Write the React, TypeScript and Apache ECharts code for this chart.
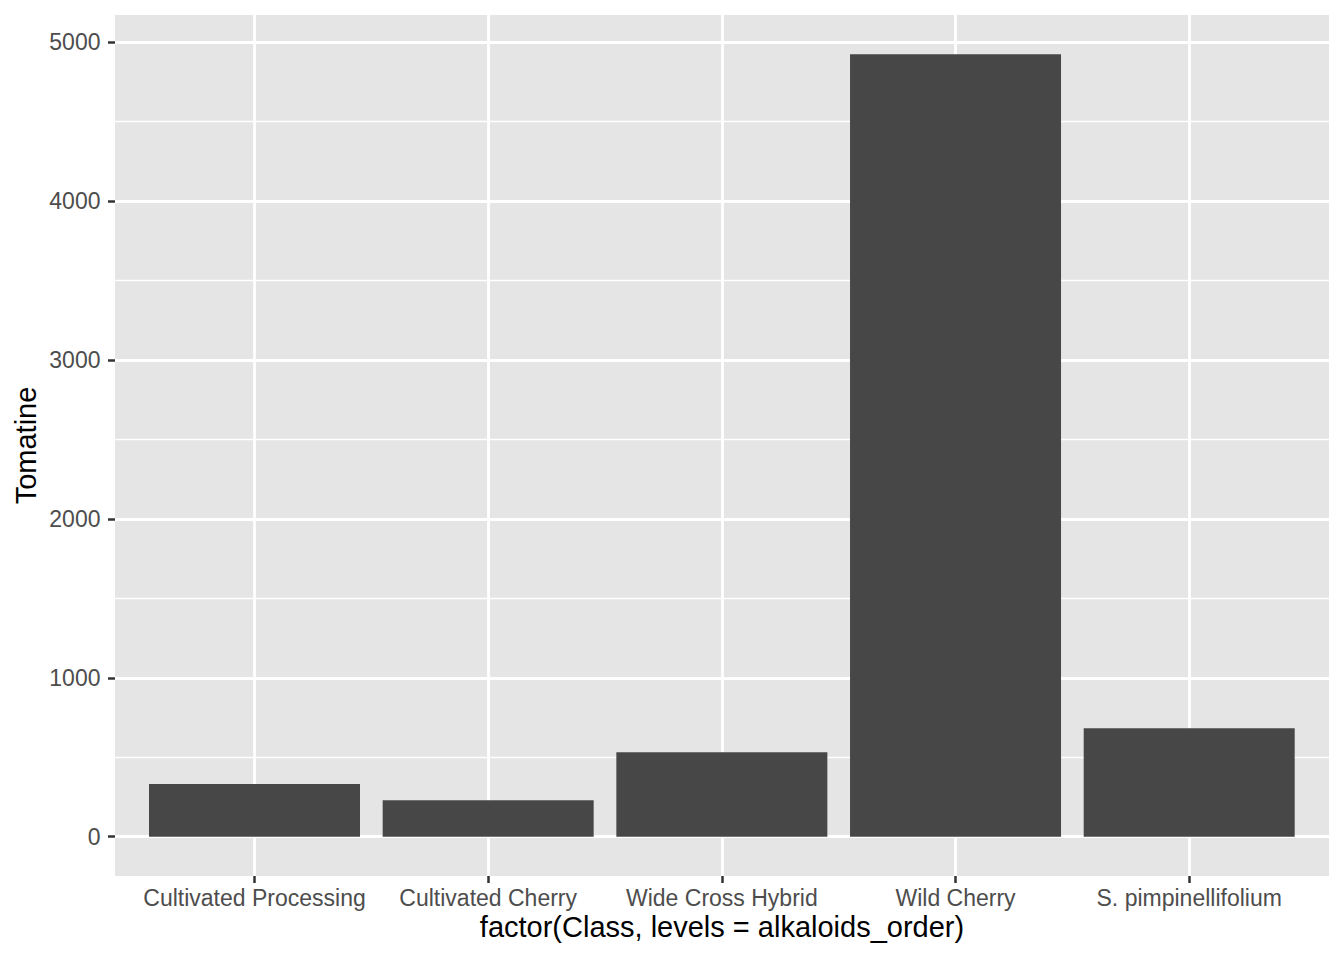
import React, { useEffect, useRef } from "react";
import * as echarts from "echarts";

const categories = [
  "Cultivated Processing",
  "Cultivated Cherry",
  "Wide Cross Hybrid",
  "Wild Cherry",
  "S. pimpinellifolium",
];
const tomatine = [332, 231, 533, 4926, 684];
const yTicks = [0, 1000, 2000, 3000, 4000, 5000];

const yMin = -246.3;
const yMax = 5172.3;

export default function App() {
  const ref = useRef<HTMLDivElement>(null);
  useEffect(() => {
    if (!ref.current) return;
    const chart = echarts.init(ref.current, null, { renderer: "svg" });
    const font = "'Liberation Sans', Arial, Helvetica, sans-serif";
    const panel = { left: 115, top: 15, width: 1214, height: 861 };
    const option: any = {
      animation: false,
      backgroundColor: "#FFFFFF",
      grid: [
        {
          left: panel.left,
          top: panel.top,
          width: panel.width,
          height: panel.height,
          show: true,
          backgroundColor: "#E5E5E5",
          borderWidth: 0,
        },
        {
          left: panel.left,
          top: 42.3,
          width: panel.width,
          height: 794.4,
          show: false,
        },
        {
          left: 254.5,
          top: panel.top,
          width: 934.7,
          height: panel.height,
          show: false,
        },
      ],
      xAxis: [
        { type: "value", gridIndex: 0, min: 0, max: 1, show: false },
        { type: "value", gridIndex: 1, min: 0, max: 1, show: false },
        {
          type: "category",
          gridIndex: 2,
          position: "bottom",
          data: categories,
          boundaryGap: false,
          axisLine: { show: false, onZero: false },
          axisTick: {
            show: true,
            length: 7,
            inside: false,
            lineStyle: { color: "#333333", width: 2.5 },
          },
          splitLine: { show: true, lineStyle: { color: "#FFFFFF", width: 2.8 } },
          axisLabel: {
            show: true,
            interval: 0,
            margin: 10,
            color: "#4D4D4D",
            fontSize: 23,
            fontFamily: font,
          },
        },
      ],
      yAxis: [
        { type: "value", gridIndex: 0, min: yMin, max: yMax, show: false },
        {
          type: "value",
          gridIndex: 1,
          min: yTicks[0],
          max: yTicks[yTicks.length - 1],
          interval: 1000,
          axisLine: { show: false, onZero: false },
          axisTick: {
            show: true,
            length: 7,
            lineStyle: { color: "#333333", width: 2.5 },
          },
          minorTick: { show: false, splitNumber: 2 },
          splitLine: { show: true, lineStyle: { color: "#FFFFFF", width: 2.8 } },
          minorSplitLine: { show: true, lineStyle: { color: "#FFFFFF", width: 1.4 } },
          axisLabel: {
            show: true,
            margin: 14.5,
            color: "#4D4D4D",
            fontSize: 23,
            fontFamily: font,
            formatter: (v: number) => String(v),
          },
        },
        {
          type: "value",
          gridIndex: 2,
          min: yMin,
          max: yMax,
          show: false,
          splitLine: { show: false },
        },
      ],
      series: [
        {
          type: "bar",
          xAxisIndex: 2,
          yAxisIndex: 2,
          data: tomatine,
          barWidth: 211,
          itemStyle: { color: "#474747" },
          z: 5,
        },
      ],
      graphic: [
        {
          type: "text",
          x: 722,
          y: 927,
          style: {
            text: "factor(Class, levels = alkaloids_order)",
            fill: "#000000",
            font: `29px ${font}`,
            align: "center",
            verticalAlign: "middle",
          },
        },
        {
          type: "text",
          x: 26,
          y: 445.5,
          rotation: Math.PI / 2,
          style: {
            text: "Tomatine",
            fill: "#000000",
            font: `29px ${font}`,
            align: "center",
            verticalAlign: "middle",
          },
        },
      ],
    };
    chart.setOption(option);
    return () => chart.dispose();
  }, []);
  return (
    <div
      ref={ref}
      style={{ position: "fixed", left: 0, top: 0, width: 1344, height: 960 }}
    />
  );
}
